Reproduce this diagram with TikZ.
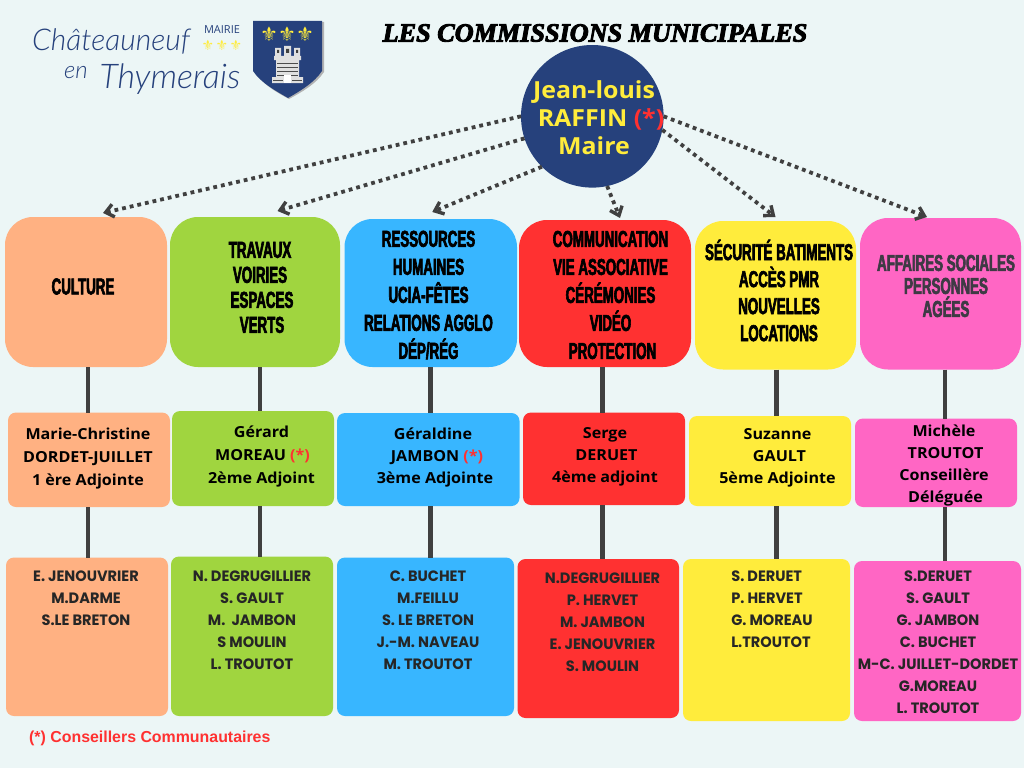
\documentclass[tikz,border=0pt]{standalone}
\usepackage{fontspec}
\usepackage{xcolor}
\usetikzlibrary{arrows.meta}
\setmainfont{Open Sans}
\newfontfamily\headfont[FakeStretch=0.58,BoldFeatures={FakeStretch=0.58,FakeBold=2.6}]{Liberation Sans}
\newfontfamily\namefont[FakeStretch=1.06,BoldFeatures={FakeStretch=1.06}]{Open Sans}
\newfontfamily\plainfont{Open Sans}
\newfontfamily\listfont[FakeStretch=0.97,BoldFeatures={FakeStretch=0.97}]{Poppins}
\newfontfamily\titlefont[BoldItalicFeatures={FakeBold=3.5}]{Liberation Serif}
\newfontfamily\notefont{Liberation Sans}
\newfontfamily\logofont{Lato Light}
\newfontfamily\symbfont{DejaVu Sans}
\definecolor{pagebg}{RGB}{236, 246, 246}
\definecolor{peach}{RGB}{255, 177, 130}
\definecolor{leafgreen}{RGB}{160, 213, 63}
\definecolor{skyblue}{RGB}{56, 182, 255}
\definecolor{brightred}{RGB}{255, 49, 49}
\definecolor{sunyellow}{RGB}{255, 236, 60}
\definecolor{hotpink}{RGB}{255, 102, 196}
\definecolor{navy}{RGB}{38, 65, 124}
\definecolor{linegray}{RGB}{64, 64, 64}
\definecolor{softgray}{RGB}{62, 58, 68}
\newcommand{\cmark}{{\color{brightred}(*)}}

\begin{document}
\begin{tikzpicture}[
    x=1pt, y=-1pt,
    commbox/.style={rectangle, rounded corners=28pt, inner sep=0pt, outer sep=0pt},
    namebox/.style={rectangle, rounded corners=8pt, inner sep=0pt, outer sep=0pt},
    headtext/.style={align=center, inner sep=0pt, font=\headfont\bfseries\fontsize{23}{#1}\selectfont},
    nametext/.style={align=center, inner sep=0pt, font=\namefont\bfseries\fontsize{15.2}{#1}\selectfont},
    listtext/.style={align=center, inner sep=0pt, text=black!85, font=\listfont\bfseries\fontsize{15}{22}\selectfont},
    fleur/.style={inner sep=0pt, text=sunyellow, font=\symbfont\fontsize{#1}{#1}\selectfont},
    orderarrow/.style={-{Straight Barb[length=8pt, width=13pt, line width=3.4pt]}, line width=3.8pt, color=linegray, dash pattern=on 3.8pt off 4pt},
    link/.style={line width=4.6pt, color=linegray}
]
\useasboundingbox (0,0) rectangle (1024,768);
\fill[pagebg] (0,0) rectangle (1024,768);

% Logo
\node[inner sep=0pt, text=navy, font=\logofont\itshape\fontsize{30}{30}\selectfont] (logoname) at (111,41) {Châteauneuf};
\node[inner sep=0pt, text=navy, font=\logofont\itshape\fontsize{24}{24}\selectfont] (logoen) at (76,73) {en};
\node[inner sep=0pt, text=navy, font=\logofont\itshape\fontsize{34}{34}\selectfont] (logoplace) at (170,79) {Thymerais};
\node[inner sep=0pt, text=navy, font=\plainfont\fontsize{11}{11}\selectfont] (logomairie) at (222,30) {MAIRIE};
\node[fleur=14] (logofleura) at (208,45) {⚜};
\node[fleur=14] (logofleurb) at (222,45) {⚜};
\node[fleur=14] (logofleurc) at (236,45) {⚜};

% Shield
\fill[black!30] (255,22) -- (324,22) -- (324,72) .. controls (316,84) and (302,92) .. (289,99) .. controls (276,92) and (262,84) .. (255,72) -- cycle;
\fill[navy] (253,21) -- (322,21) -- (322,71) .. controls (314,83) and (300,91) .. (288,98) .. controls (276,91) and (261,83) .. (253,71) -- cycle;
\node[fleur=20] (shieldfleura) at (269,34) {⚜};
\node[fleur=20] (shieldfleurb) at (287,34) {⚜};
\node[fleur=20] (shieldfleurc) at (305,34) {⚜};

% Castle
\fill[black!12] (275,48) rectangle (281,56) (284,46) rectangle (291,56) (294,48) rectangle (300,56);
\fill[black!12] (274,56) rectangle (301,60) (276,60) rectangle (299,78) (272,77) rectangle (303,83);
\draw[black!70, line width=0.7pt] (277,63) -- (298,63) (277,67) -- (298,67) (277,71) -- (298,71) (277,75) -- (298,75) (273,80) -- (283,80) (292,80) -- (302,80);
\fill[black!75] (277,50) rectangle (279,53) (286,49) rectangle (289,53) (296,50) rectangle (298,53);
\fill[white] (284,75) rectangle (291,83);

% Title
\node[inner sep=0pt, font=\titlefont\bfseries\itshape\fontsize{26.2}{26.2}\selectfont] (title) at (595,33) {LES COMMISSIONS MUNICIPALES};

% Mayor
\node[circle, fill=navy, minimum size=142.6pt, inner sep=0pt, outer sep=0pt] (mayor) at (592.3,116.3) {};
\node[align=center, inner sep=0pt, text=sunyellow, font=\namefont\bfseries\fontsize{23.5}{28}\selectfont] (mayortxt) at (594,118) {Jean-louis\\\hspace*{14pt}RAFFIN \cmark\\Maire};

% Commissions
\node[commbox, fill=peach, minimum width=162pt, minimum height=150pt] (culture) at (86,292) {};
\node[commbox, fill=leafgreen, minimum width=170pt, minimum height=150pt] (travaux) at (255,292) {};
\node[commbox, fill=skyblue, minimum width=172.5pt, minimum height=148pt] (ressources) at (430.75,293) {};
\node[commbox, fill=brightred, minimum width=172pt, minimum height=147pt] (communication) at (605,293.5) {};
\node[commbox, fill=sunyellow, minimum width=161pt, minimum height=148.5pt] (securite) at (775.5,295.25) {};
\node[commbox, fill=hotpink, minimum width=161pt, minimum height=151.5pt] (affaires) at (940.5,293.75) {};

\node[headtext=25] (culturetxt) at (83,286.5) {CULTURE};
\node[headtext=25] (travauxtxt) at (260,287.5) {TRAVAUX\\VOIRIES\\\hspace*{4pt}ESPACES\\\hspace*{4pt}VERTS};
\node[headtext=28] (ressourcestxt) at (428.5,295) {RESSOURCES\\HUMAINES\\UCIA-FÊTES\\RELATIONS AGGLO\\DÉP/RÉG};
\node[headtext=28] (communicationtxt) at (610.5,295) {COMMUNICATION\\VIE ASSOCIATIVE\\CÉRÉMONIES\\VIDÉO\\\hspace*{4pt}PROTECTION};
\node[headtext=27] (securitetxt) at (779,290.5) {SÉCURITÉ BATIMENTS\\ACCÈS PMR\\NOUVELLES\\LOCATIONS};
\node[headtext=23, text=softgray] (affairestxt) at (946,286) {AFFAIRES SOCIALES\\PERSONNES\\AGÉES};

% Adjoints
\node[namebox, fill=peach, minimum width=162pt, minimum height=94.5pt] (adjculture) at (89,459.75) {};
\node[namebox, fill=leafgreen, minimum width=162pt, minimum height=95pt] (adjtravaux) at (253,458.5) {};
\node[namebox, fill=skyblue, minimum width=182.5pt, minimum height=93pt] (adjressources) at (428.25,459.5) {};
\node[namebox, fill=brightred, minimum width=162pt, minimum height=92.5pt] (adjcommunication) at (604,458.75) {};
\node[namebox, fill=sunyellow, minimum width=162pt, minimum height=90pt] (adjsecurite) at (770,461) {};
\node[namebox, fill=hotpink, minimum width=162pt, minimum height=88.5pt] (adjaffaires) at (936,462.75) {};

\node[nametext=23] (adjculturetxt) at (88,458.5) {Marie-Christine\\DORDET-JUILLET\\1 ère Adjointe};
\node[nametext=23] (adjtravauxtxt) at (261.5,456.5) {Gérard\\\hspace*{2pt}MOREAU \cmark\\2ème Adjoint};
\node[nametext=22] (adjressourcestxt) at (435,457.5) {\hspace*{-4pt}Géraldine\\\hspace*{4pt}JAMBON \cmark\\3ème Adjointe};
\node[nametext=22] (adjcommunicationtxt) at (605,456.5) {Serge\\\hspace*{3pt}DERUET\\4ème adjoint};
\node[nametext=22] (adjsecuritetxt) at (777.5,457.5) {Suzanne\\\hspace*{4pt}GAULT\\5ème Adjointe};
\node[nametext=22] (adjaffairestxt) at (944,465) {Michèle\\\hspace*{3pt}TROUTOT\\Conseillère\\\hspace*{3pt}Déléguée};

% Membres
\node[namebox, fill=peach, minimum width=162pt, minimum height=158.5pt] (memculture) at (87,636.75) {};
\node[namebox, fill=leafgreen, minimum width=162pt, minimum height=159.5pt] (memtravaux) at (252,636.25) {};
\node[namebox, fill=skyblue, minimum width=177pt, minimum height=158.5pt] (memressources) at (425.5,636.75) {};
\node[namebox, fill=brightred, minimum width=161.5pt, minimum height=159pt] (memcommunication) at (598.25,638.5) {};
\node[namebox, fill=sunyellow, minimum width=167pt, minimum height=162pt] (memsecurite) at (766.5,640) {};
\node[namebox, fill=hotpink, minimum width=167pt, minimum height=160pt] (memaffaires) at (937.5,641) {};

\node[listtext] (memculturetxt) at (86,598) {E. JENOUVRIER\\M.DARME\\S.LE BRETON};
\node[listtext] (memtravauxtxt) at (252,620) {N. DEGRUGILLIER\\S. GAULT\\M.\ \ JAMBON\\S MOULIN\\L. TROUTOT};
\node[listtext] (memressourcestxt) at (428,620.5) {C. BUCHET\\M.FEILLU\\S. LE BRETON\\J.-M. NAVEAU\\M. TROUTOT};
\node[listtext] (memcommunicationtxt) at (602.5,622) {N.DEGRUGILLIER\\P. HERVET\\M. JAMBON\\E. JENOUVRIER\\S. MOULIN};
\node[listtext, align=left] (memsecuritetxt) at (772,609) {S. DERUET\\P. HERVET\\G. MOREAU\\L.TROUTOT};
\node[listtext] (memaffairestxt) at (938,642) {S.DERUET\\S. GAULT\\G. JAMBON\\C. BUCHET\\M-C. JUILLET-DORDET\\G.MOREAU\\L. TROUTOT};

% Arrows from the mayor
\draw[orderarrow] (mayor.180) -- ([xshift=17pt, yshift=4pt]culture.north);
\draw[orderarrow] (mayor.198) -- ([xshift=22.5pt, yshift=6pt]travaux.north);
\draw[orderarrow] (mayor.225) -- ([xshift=1.5pt, yshift=7pt]ressources.north);
\draw[orderarrow] (mayor.282) -- ([xshift=15pt, yshift=2pt]communication.north);
\draw[orderarrow] (mayor.349) -- ([yshift=4pt]securite.north);
\draw[orderarrow] (mayor.0) -- ([xshift=-13.5pt, yshift=1pt]affaires.north);

% Links
\draw[link] ([xshift=2pt]culture.south) -- ([xshift=-1pt]adjculture.north);
\draw[link] ([xshift=5pt]travaux.south) -- ([xshift=7pt]adjtravaux.north);
\draw[link] ([xshift=-0.25pt]ressources.south) -- ([xshift=2.25pt]adjressources.north);
\draw[link] ([xshift=-2.5pt]communication.south) -- ([xshift=-1.5pt]adjcommunication.north);
\draw[link] ([xshift=1pt]securite.south) -- ([xshift=6.5pt]adjsecurite.north);
\draw[link] ([xshift=4.5pt]affaires.south) -- ([xshift=9pt]adjaffaires.north);

\draw[link] ([xshift=-1pt]adjculture.south) -- ([xshift=1pt]memculture.north);
\draw[link] ([xshift=7pt]adjtravaux.south) -- ([xshift=8pt]memtravaux.north);
\draw[link] ([xshift=2.25pt]adjressources.south) -- ([xshift=5pt]memressources.north);
\draw[link] ([xshift=-1.5pt]adjcommunication.south) -- ([xshift=4.25pt]memcommunication.north);
\draw[link] ([xshift=6.5pt]adjsecurite.south) -- ([xshift=10pt]memsecurite.north);
\draw[link] ([xshift=9pt]adjaffaires.south) -- ([xshift=7.5pt]memaffaires.north);

% Note
\node[anchor=west, inner sep=0pt, text=brightred, font=\notefont\bfseries\fontsize{15.9}{15.9}\selectfont] (note) at (29,738.5) {(*) Conseillers Communautaires};

\end{tikzpicture}
\end{document}
